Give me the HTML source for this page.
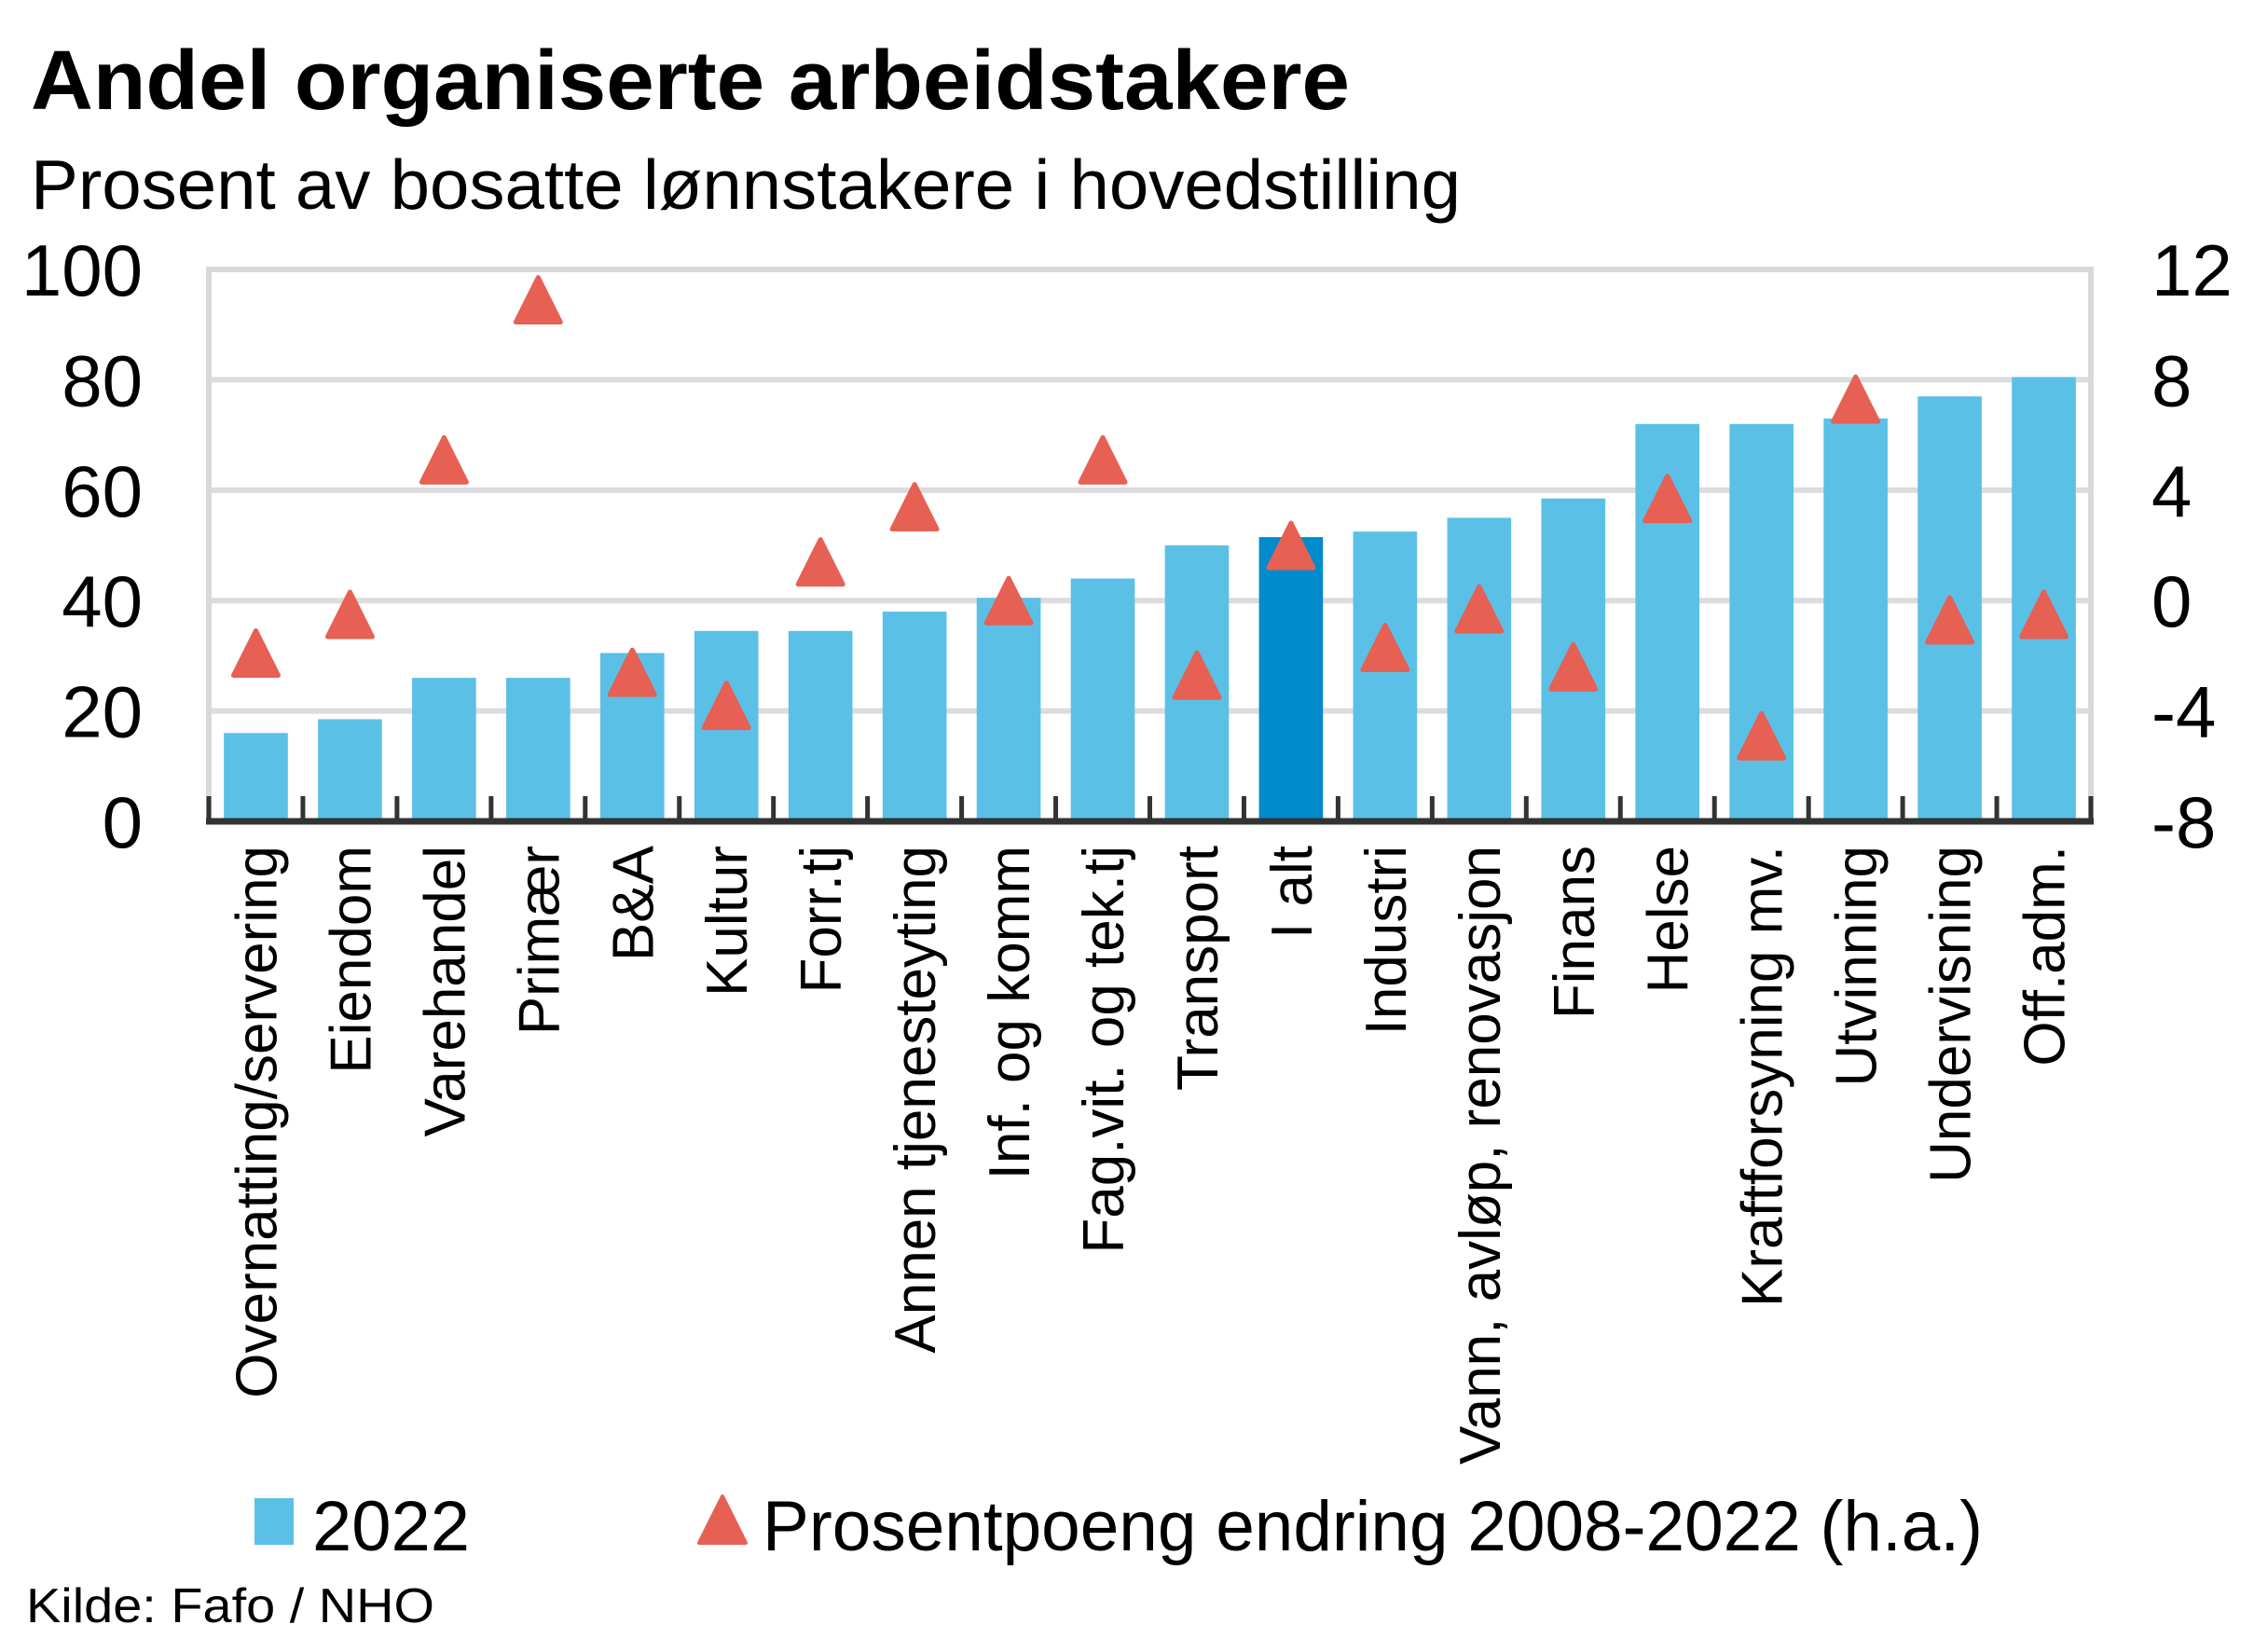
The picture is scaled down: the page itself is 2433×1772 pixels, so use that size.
<!DOCTYPE html>
<html><head><meta charset="utf-8"><style>
html,body{margin:0;padding:0;background:#fff;}
svg{display:block;font-family:"Liberation Sans",sans-serif;}
</style></head><body>
<svg id="chart" width="2433" height="1772" viewBox="0 0 2433 1772">
<text x="33" y="117" font-size="90" font-weight="bold" textLength="1415" lengthAdjust="spacingAndGlyphs">Andel organiserte  arbeidstakere</text>
<text x="33" y="224" font-size="75" textLength="1534" lengthAdjust="spacingAndGlyphs">Prosent av bosatte lønnstakere i hovedstilling</text>
<g id="grid"></g>
<g id="bars"></g>
<g id="axes"></g>
<g id="marks"></g>
<g id="labels"></g>
<g>
<rect x="273" y="1607" width="42" height="50" fill="#5bc0e6"/>
<text x="335" y="1663" font-size="76">2022</text>
<path d="M775,1605 L800,1655 L750,1655 Z" fill="#e66054" stroke="#e66054" stroke-width="4" stroke-linejoin="round"/>
<text x="818" y="1663" font-size="76" textLength="1309" lengthAdjust="spacingAndGlyphs">Prosentpoeng endring 2008-2022 (h.a.)</text>
</g>
<text x="28" y="1740" font-size="52" textLength="438" lengthAdjust="spacingAndGlyphs">Kilde: Fafo / NHO</text>
</svg>
<script>
const categories = ["Overnatting/servering","Eiendom","Varehandel","Primær","B&A","Kultur","Forr.tj","Annen tjenesteyting","Inf. og komm","Fag.vit. og tek.tj","Transport","I alt","Industri","Vann, avløp, renovasjon","Finans","Helse","Kraftforsyning mv.","Utvinning","Undervisning","Off.adm."];
const values2022 = [16,18.5,26,26,30.5,34.5,34.5,38,40.5,44,50,51.5,52.5,55,58.5,72,72,73,77,80.5];
const change = [-1.9,-0.5,5.1,10.9,-2.6,-3.8,1.4,3.4,0,5.1,-2.7,2.0,-1.7,-0.3,-2.4,3.7,-4.9,7.3,-0.7,-0.5];
const leftTicks = [0,20,40,60,80,100];
const rightTicks = ["-8","-4","0","4","8","12"];
const highlight = "I alt";

const NS="http://www.w3.org/2000/svg";
const L=224,R=2243,T=289,B=881;
const band=(R-L)/categories.length;
const yL=v=>B-(v/100)*(B-T);
const yR=v=>B-((v+8)/20)*(B-T);
const xC=i=>L+band*(i+0.5);
function mk(tag,parent,attrs){const e=document.createElementNS(NS,tag);for(const k in attrs)e.setAttribute(k,attrs[k]);parent.appendChild(e);return e;}
const grid=document.getElementById('grid'),bars=document.getElementById('bars'),axes=document.getElementById('axes'),marks=document.getElementById('marks'),labels=document.getElementById('labels');
leftTicks.forEach((t,i)=>{
  if(t>0){const g=mk('line',grid,{x1:L,x2:R,y1:yL(t),y2:yL(t),stroke:'#dcdcdc','stroke-width':6});
  
  }
  const a=mk('text',axes,{x:153,y:yL(t)+28,'font-size':78,'text-anchor':'end'});a.textContent=t;
  
  
  const b=mk('text',axes,{x:2308,y:yL(t)+28,'font-size':78});b.textContent=rightTicks[i];
  
  
});
const fr=mk('path',axes,{d:`M${L},${B} L${L},${T} L${R},${T} L${R},${B}`,fill:'none',stroke:'#d9d9d9','stroke-width':6});


categories.forEach((c,i)=>{
  const bw=band*0.68;
  const r=mk('rect',bars,{x:xC(i)-bw/2,y:yL(values2022[i]),width:bw,height:B-yL(values2022[i]),fill:c===highlight?'#008bcc':'#5bc0e6'});
  
  
  const y=yR(change[i]),h=48,w=48;
  const p=mk('path',marks,{d:`M${xC(i)},${y-h/2} L${xC(i)+w/2},${y+h/2} L${xC(i)-w/2},${y+h/2} Z`,fill:'#e66054',stroke:'#e66054','stroke-width':5,'stroke-linejoin':'round'});
  
  
  const t=mk('text',labels,{x:0,y:0,'font-size':62,'text-anchor':'end',transform:`translate(${xC(i)+22},907) rotate(-90)`});
  t.textContent=c;
  
  
});
const ax=mk('line',axes,{x1:L-3,x2:R+3,y1:B,y2:B,stroke:'#333','stroke-width':7});


for(let i=0;i<=categories.length;i++){
  const tk=mk('line',axes,{x1:L+band*i,x2:L+band*i,y1:B,y2:B-27,stroke:'#333','stroke-width':5});
  
  
}
</script>
</body></html>
